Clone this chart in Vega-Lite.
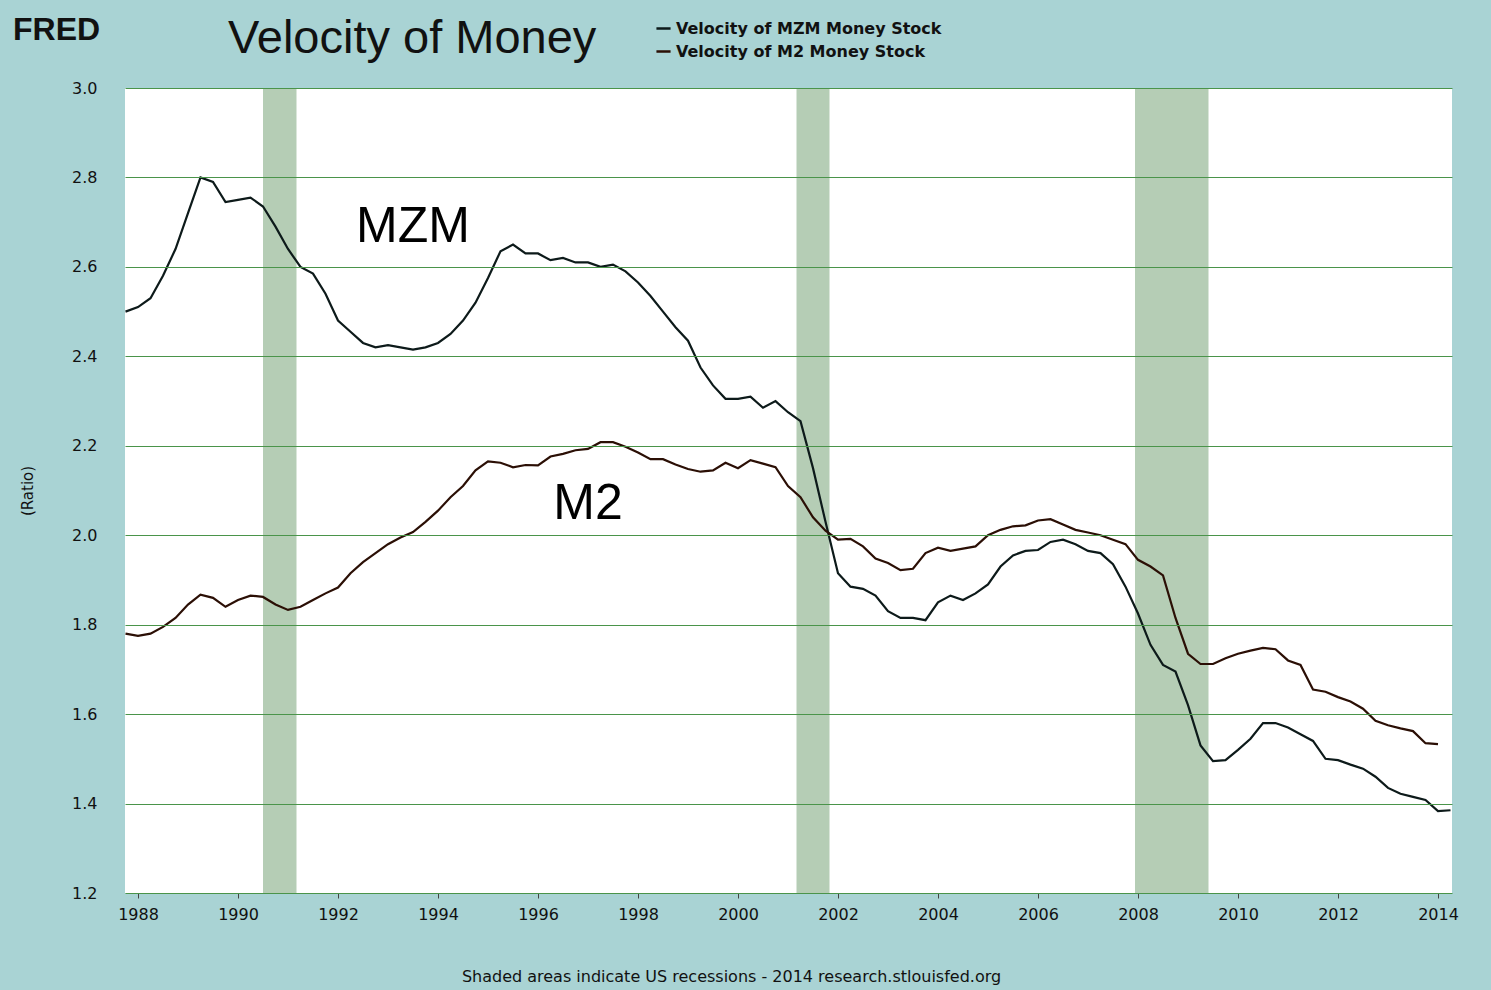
{
"$schema":"https://vega.github.io/schema/vega-lite/v6.json",
"width":1327,"height":805,
"autosize":"none",
"padding":{"left":125,"top":88,"right":39,"bottom":97},
"background":"#a9d3d4",
"config":{"view":{"fill":"white","stroke":null},"font":"DejaVu Sans"},
"datasets":{
"rec":[{"s":1990.5,"e":1991.17},{"s":2001.17,"e":2001.83},{"s":2007.94,"e":2009.41}],
"lab":[{"t":1993.5,"v":2.69,"txt":"MZM"},{"t":1997.0,"v":2.07,"txt":"M2"}],
"logo":[{"t":1985.5,"v":3.13,"txt":"FRED"}],
"ttl":[{"t":1989.8,"v":3.11,"txt":"Velocity of Money"}],
"mzm":[2.50,2.51,2.53,2.58,2.64,2.72,2.80,2.79,2.745,2.75,2.755,2.735,2.69,2.64,2.60,2.585,2.54,2.48,2.455,2.43,2.42,2.425,2.42,2.415,2.42,2.43,2.45,2.48,2.52,2.575,2.635,2.65,2.63,2.63,2.615,2.62,2.61,2.61,2.60,2.605,2.59,2.565,2.535,2.50,2.465,2.435,2.375,2.335,2.305,2.305,2.31,2.285,2.30,2.275,2.255,2.15,2.03,1.915,1.885,1.88,1.865,1.83,1.815,1.815,1.81,1.85,1.865,1.855,1.87,1.89,1.93,1.955,1.965,1.967,1.985,1.99,1.98,1.965,1.96,1.935,1.885,1.825,1.755,1.71,1.695,1.62,1.53,1.495,1.497,1.52,1.545,1.58,1.58,1.57,1.555,1.54,1.50,1.497,1.487,1.478,1.46,1.435,1.422,1.415,1.408,1.383,1.385],
"m2":[1.78,1.775,1.78,1.795,1.815,1.845,1.867,1.86,1.84,1.855,1.865,1.862,1.845,1.833,1.84,1.855,1.87,1.883,1.915,1.94,1.96,1.98,1.995,2.007,2.03,2.055,2.085,2.11,2.145,2.165,2.162,2.152,2.157,2.156,2.176,2.182,2.19,2.193,2.208,2.208,2.198,2.185,2.17,2.17,2.158,2.148,2.142,2.145,2.162,2.15,2.168,2.16,2.152,2.11,2.085,2.04,2.01,1.99,1.992,1.975,1.948,1.938,1.922,1.925,1.96,1.972,1.965,1.97,1.975,2.0,2.012,2.02,2.022,2.033,2.036,2.024,2.012,2.006,2.0,1.99,1.98,1.945,1.93,1.91,1.815,1.735,1.712,1.712,1.725,1.735,1.742,1.748,1.745,1.72,1.71,1.655,1.65,1.638,1.628,1.612,1.585,1.575,1.568,1.562,1.535,1.533]
},
"layer":[
{"data":{"name":"rec"},"mark":{"type":"rect","color":"#b5cdb5"},
 "encoding":{"x":{"field":"s","type":"quantitative","scale":{"domain":[1987.74,2014.28],"nice":false,"zero":false},
   "axis":{"values":[1988,1990,1992,1994,1996,1998,2000,2002,2004,2006,2008,2010,2012,2014],"format":"d","grid":false,"domain":false,"tickColor":"#444","tickSize":5,"labelFontSize":16,"labelColor":"#111","labelPadding":8,
   "title":"Shaded areas indicate US recessions - 2014 research.stlouisfed.org","titleFontSize":16,"titleFontWeight":"normal","titleColor":"#111","titlePadding":46,"titleX":606}},
  "x2":{"field":"e"},
  "y":{"datum":3.0,"type":"quantitative","scale":{"domain":[1.2,3.0],"nice":false,"zero":false},
   "axis":{"values":[1.2,1.4,1.6,1.8,2.0,2.2,2.4,2.6,2.8,3.0],"format":".1f","grid":true,"gridColor":"#4a944a","gridOpacity":1,"gridWidth":1,"zindex":1,"domain":false,"ticks":false,"labelFontSize":16,"labelColor":"#111","labelPadding":28,"title":"(Ratio)","titleFontSize":15,"titleFontWeight":"normal","titleColor":"#111","titlePadding":36}},
  "y2":{"datum":1.2}}},
{"data":{"name":"mzm"},"transform":[{"window":[{"op":"row_number","as":"i"}]},{"calculate":"1987.75+(datum.i-1)*0.25","as":"t"},{"calculate":"'Velocity of MZM Money Stock'","as":"series"}],
 "mark":{"type":"line","strokeWidth":2.2,"clip":true},
 "encoding":{"x":{"field":"t","type":"quantitative"},"y":{"field":"data","type":"quantitative"},
  "color":{"field":"series","type":"nominal","scale":{"domain":["Velocity of MZM Money Stock","Velocity of M2 Money Stock"],"range":["#0d1a1a","#2b0f05"]},
   "legend":{"orient":"none","legendX":530,"legendY":-68,"title":null,"symbolType":"stroke","symbolStrokeWidth":2.5,"symbolSize":200,"labelFontSize":16,"labelFontWeight":"bold","labelColor":"#111","labelLimit":500,"rowPadding":6}}}},
{"data":{"name":"m2"},"transform":[{"window":[{"op":"row_number","as":"i"}]},{"calculate":"1987.75+(datum.i-1)*0.25","as":"t"},{"calculate":"'Velocity of M2 Money Stock'","as":"series"}],
 "mark":{"type":"line","strokeWidth":2.2,"clip":true},
 "encoding":{"x":{"field":"t","type":"quantitative"},"y":{"field":"data","type":"quantitative"},"color":{"field":"series","type":"nominal"}}},
{"data":{"name":"lab"},"mark":{"type":"text","fontSize":50,"font":"Liberation Sans","color":"#000","align":"center","baseline":"middle"},
 "encoding":{"x":{"field":"t","type":"quantitative"},"y":{"field":"v","type":"quantitative"},"text":{"field":"txt"}}},
{"data":{"name":"logo"},"mark":{"type":"text","font":"Liberation Sans","fontSize":32,"fontWeight":"bold","color":"#111","align":"left","baseline":"middle","clip":false},
 "encoding":{"x":{"field":"t","type":"quantitative"},"y":{"field":"v","type":"quantitative"},"text":{"field":"txt"}}},
{"data":{"name":"ttl"},"mark":{"type":"text","font":"Liberation Sans","fontSize":47,"color":"#111","align":"left","baseline":"middle","clip":false},
 "encoding":{"x":{"field":"t","type":"quantitative"},"y":{"field":"v","type":"quantitative"},"text":{"field":"txt"}}}
]
}
